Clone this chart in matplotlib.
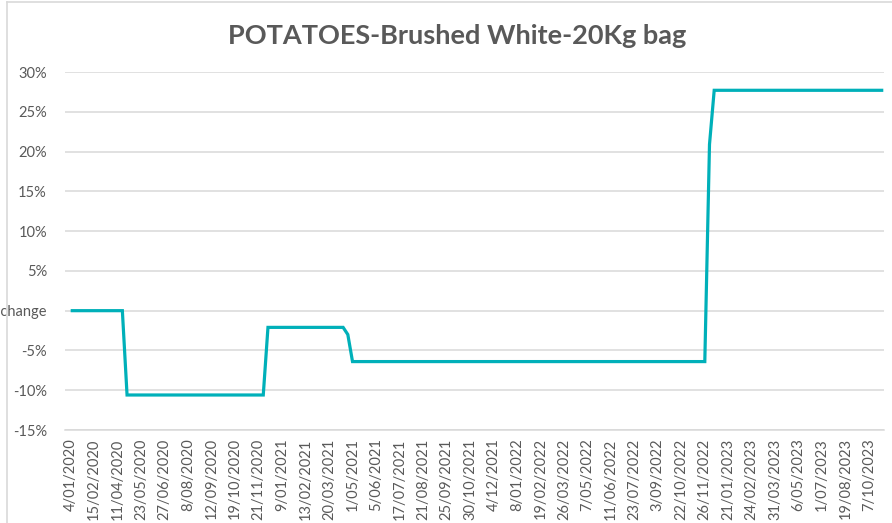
import matplotlib
matplotlib.use("Agg")
import matplotlib.pyplot as plt
from matplotlib.lines import Line2D

# ---- data ----
title = "POTATOES-Brushed White-20Kg bag"

tick_labels = ["4/01/2020", "15/02/2020", "11/04/2020", "23/05/2020", "27/06/2020",
               "8/08/2020", "12/09/2020", "19/10/2020", "21/11/2020", "9/01/2021",
               "13/02/2021", "20/03/2021", "1/05/2021", "5/06/2021", "17/07/2021",
               "21/08/2021", "25/09/2021", "30/10/2021", "4/12/2021", "8/01/2022",
               "19/02/2022", "26/03/2022", "7/05/2022", "11/06/2022", "23/07/2022",
               "3/09/2022", "22/10/2022", "26/11/2022", "21/01/2023", "24/02/2023",
               "31/03/2023", "6/05/2023", "1/07/2023", "19/08/2023", "7/10/2023"]
label_every = 5  # one date label per 5 data points

# percentage change per observation (174 observations)
pct_change = [
    0, 0, 0, 0, 0, 0, 0, 0, 0, 0, 0, 0,
    -10.6, -10.6, -10.6, -10.6, -10.6, -10.6, -10.6, -10.6, -10.6, -10.6,
    -10.6, -10.6, -10.6, -10.6, -10.6, -10.6, -10.6, -10.6, -10.6, -10.6,
    -10.6, -10.6, -10.6, -10.6, -10.6, -10.6, -10.6, -10.6, -10.6, -10.6,
    -2.1, -2.1, -2.1, -2.1, -2.1, -2.1, -2.1, -2.1, -2.1, -2.1,
    -2.1, -2.1, -2.1, -2.1, -2.1, -2.1, -2.1,
    -3.0,
    -6.4, -6.4, -6.4, -6.4, -6.4, -6.4, -6.4, -6.4, -6.4, -6.4,
    -6.4, -6.4, -6.4, -6.4, -6.4, -6.4, -6.4, -6.4, -6.4, -6.4,
    -6.4, -6.4, -6.4, -6.4, -6.4, -6.4, -6.4, -6.4, -6.4, -6.4,
    -6.4, -6.4, -6.4, -6.4, -6.4, -6.4, -6.4, -6.4, -6.4, -6.4,
    -6.4, -6.4, -6.4, -6.4, -6.4, -6.4, -6.4, -6.4, -6.4, -6.4,
    -6.4, -6.4, -6.4, -6.4, -6.4, -6.4, -6.4, -6.4, -6.4, -6.4,
    -6.4, -6.4, -6.4, -6.4, -6.4, -6.4, -6.4, -6.4, -6.4, -6.4,
    -6.4, -6.4, -6.4, -6.4, -6.4, -6.4,
    20.9,
    27.7, 27.7, 27.7, 27.7, 27.7, 27.7, 27.7, 27.7, 27.7, 27.7,
    27.7, 27.7, 27.7, 27.7, 27.7, 27.7, 27.7, 27.7, 27.7, 27.7,
    27.7, 27.7, 27.7, 27.7, 27.7, 27.7, 27.7, 27.7, 27.7, 27.7,
    27.7, 27.7, 27.7, 27.7, 27.7, 27.7, 27.7,
]

y_ticks = [-15, -10, -5, 0, 5, 10, 15, 20, 25, 30]
y_tick_labels = ["-15%", "-10%", "-5%", "No change", "5%", "10%", "15%", "20%", "25%", "30%"]

# ---- style ----
W, H = 892, 523
TEXT = "#595959"
GRID = "#d9d9d9"
LINE = "#00B0B9"
plt.rcParams["font.family"] = ["Lato", "DejaVu Sans"]

fig = plt.figure(figsize=(W / 100, H / 100), dpi=100)
fig.patch.set_facecolor("white")

left, right, top, bottom = 65, 884, 72, 430
ax = fig.add_axes([left / W, 1 - bottom / H, (right - left) / W, (bottom - top) / H])

x = list(range(len(pct_change)))
ax.plot(x, pct_change, color=LINE, linewidth=2.3, solid_joinstyle="miter",
        solid_capstyle="butt", zorder=3)

ax.set_xlim(-1.21, len(pct_change) - 1 + 0.15)
ax.set_ylim(-15, 30)

ax.set_yticks(y_ticks)
ax.set_yticklabels(y_tick_labels)
ax.set_xticks(x[::label_every][:len(tick_labels)])
ax.set_xticklabels(tick_labels, rotation=90)

ax.grid(axis="y", color=GRID, linewidth=1.1)
ax.set_axisbelow(True)
for s in ["top", "right", "left"]:
    ax.spines[s].set_visible(False)
ax.spines["bottom"].set_color(GRID)
ax.spines["bottom"].set_linewidth(1.1)

ax.tick_params(axis="y", length=0, pad=13, labelsize=10.5, labelcolor=TEXT)
ax.tick_params(axis="x", length=0, pad=6, labelsize=10.5, labelcolor=TEXT)

fig.text(457 / W, 1 - 36 / H, title, ha="center", va="center",
         fontsize=19.5, color=TEXT, fontweight="bold")

# chart-area border (top and left visible)
fig.add_artist(Line2D([7 / W, 1.0], [1 - 1.5 / H, 1 - 1.5 / H], transform=fig.transFigure,
                      color=GRID, linewidth=1.2))
fig.add_artist(Line2D([7 / W, 7 / W], [0.0, 1 - 1.5 / H], transform=fig.transFigure,
                      color=GRID, linewidth=1.2))

fig.savefig("out.png", dpi=100, facecolor="white")
